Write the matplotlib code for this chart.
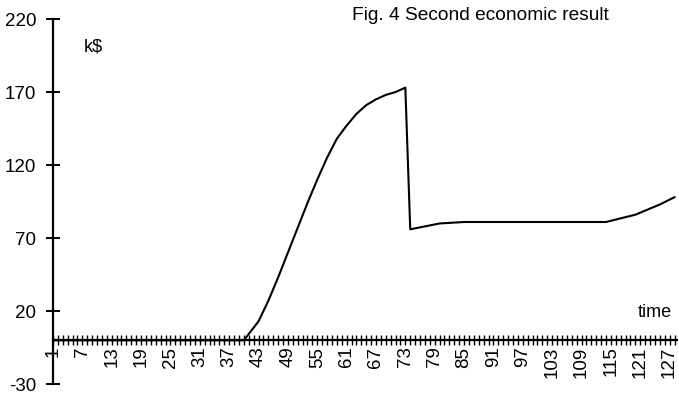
import matplotlib
matplotlib.use("Agg")
import matplotlib.pyplot as plt

plt.rcParams['font.family'] = ['Liberation Sans', 'DejaVu Sans']

# values (k$ vs time step)
time = [1, 40, 43, 45, 47, 49, 51, 53, 55, 57, 59, 61, 63, 65, 67, 69, 71, 73,
        74, 77, 80, 85, 114, 120, 125, 128]
result = [0, 0, 13, 27, 43, 60, 77, 94, 110, 125, 138, 147, 155, 161, 165, 168, 170, 173,
          76, 78, 80, 81, 81, 86, 93, 98]

x_labels = list(range(1, 128, 6))
y_ticks = [-30, 20, 70, 120, 170, 220]

fig = plt.figure(figsize=(6.79, 3.96), dpi=100)
ax = fig.add_axes([0.078, 0.030, 0.919, 0.922])

ax.plot(time, result, color='black', lw=1.5)

ax.set_xlim(1, 128.5)
ax.set_ylim(-30, 220)

ax.spines['top'].set_visible(False)
ax.spines['right'].set_visible(False)
ax.spines['bottom'].set_position(('data', 0))
ax.spines['left'].set_linewidth(1.6)
ax.spines['bottom'].set_linewidth(1.6)

ax.set_xticks(x_labels)
ax.set_xticklabels([str(v) for v in x_labels], rotation=90, fontsize=13.5)
ax.set_xticks(range(1, 129), minor=True)
ax.tick_params(axis='x', which='both', direction='inout', length=7, width=1, pad=1)

ax.set_yticks(y_ticks)
ax.set_yticklabels([str(v) for v in y_ticks], fontsize=13.5)
ax.tick_params(axis='y', direction='inout', length=10, width=1.4, pad=7)

ax.text(7.3, 201, 'k$', fontsize=13, ha='left', va='center')
ax.text(127.5, 19, 'time', fontsize=13, ha='right', va='center')
fig.text(0.518, 0.962, 'Fig. 4 Second economic result', fontsize=13.8, ha='left', va='center')

fig.savefig('out.png', dpi=100)
